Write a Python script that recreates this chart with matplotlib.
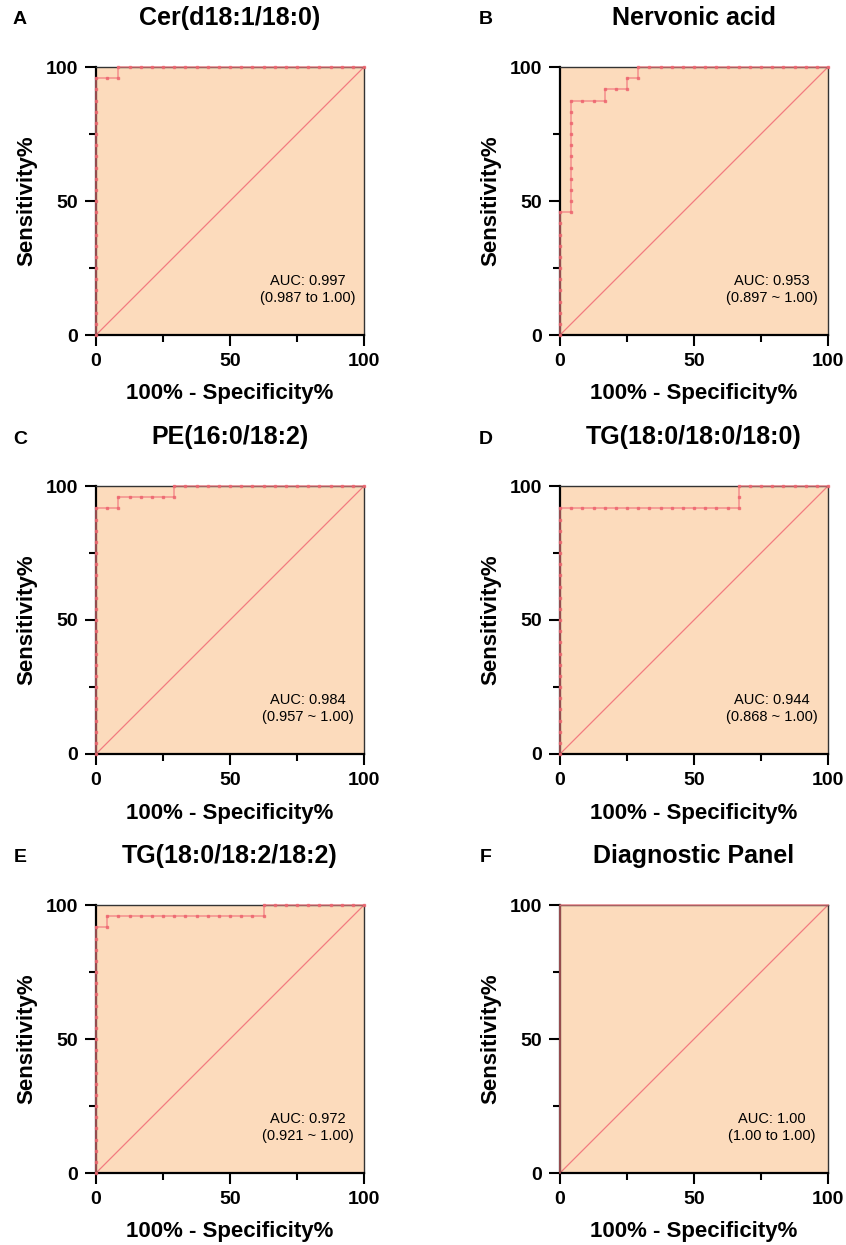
import numpy as np
import matplotlib
matplotlib.use("Agg")
import matplotlib.pyplot as plt
from matplotlib.ticker import MultipleLocator

plt.rcParams['font.family'] = ['Liberation Sans', 'DejaVu Sans']

# ROC data: 24 cases and 24 controls per marker.
# Each run = (cases passed, controls passed) when walking down the score ranking.
n_cases = 24
n_controls = 24
titles = ['Cer(d18:1/18:0)', 'Nervonic acid', 'PE(16:0/18:2)',
          'TG(18:0/18:0/18:0)', 'TG(18:0/18:2/18:2)', 'Diagnostic Panel']
letters = ['A', 'B', 'C', 'D', 'E', 'F']
runs = [
    [(23, 2), (1, 22)],
    [(11, 1), (10, 3), (1, 2), (1, 1), (1, 17)],
    [(22, 2), (1, 5), (1, 17)],
    [(22, 16), (2, 8)],
    [(22, 1), (1, 14), (1, 9)],
    [(24, 24)],
]
auc_text = ['AUC: 0.997\n(0.987 to 1.00)', 'AUC: 0.953\n(0.897 ~ 1.00)',
            'AUC: 0.984\n(0.957 ~ 1.00)', 'AUC: 0.944\n(0.868 ~ 1.00)',
            'AUC: 0.972\n(0.921 ~ 1.00)', 'AUC: 1.00\n(1.00 to 1.00)']

FILL = '#FCDBBC'
RED = '#F27B80'


def roc_points(r):
    # one step per subject, cases move up, controls move right
    moves = []
    for up, right in r:
        moves += [(0, 1)] * up + [(1, 0)] * right
    moves = np.array(moves)
    fp = np.concatenate([[0], np.cumsum(moves[:, 0])]) / n_controls * 100
    tp = np.concatenate([[0], np.cumsum(moves[:, 1])]) / n_cases * 100
    return fp, tp


W, H = 846, 1245
fig = plt.figure(figsize=(W / 100, H / 100), dpi=100)

col_left = [96, 560]
row_top = [67, 486, 905]
size = 268

for i in range(6):
    c, r = i % 2, i // 2
    ax = fig.add_axes([col_left[c] / W, (H - row_top[r] - size) / H, size / W, size / H])
    ax.set_facecolor(FILL)
    fp, tp = roc_points(runs[i])
    ax.plot([0, 100], [0, 100], color=RED, lw=0.9, zorder=2)
    ms = 0 if i == 5 else 1.5
    ax.plot(fp, tp, color=RED, lw=1.1, marker='s', ms=ms, mec='#EE6670', mfc='#EE6670',
            clip_on=False, zorder=3, alpha=0.8)
    ax.set_xlim(0, 100)
    ax.set_ylim(0, 100)
    ax.xaxis.set_major_locator(MultipleLocator(50))
    ax.yaxis.set_major_locator(MultipleLocator(50))
    ax.xaxis.set_minor_locator(MultipleLocator(25))
    ax.yaxis.set_minor_locator(MultipleLocator(25))
    ax.tick_params(which='major', length=8, width=1.5, pad=5, labelsize=14)
    ax.tick_params(which='minor', length=5, width=1.5)
    for lab in ax.get_xticklabels() + ax.get_yticklabels():
        lab.set_fontweight('bold')
    for s in ['left', 'bottom']:
        ax.spines[s].set_linewidth(1.6)
    for s in ['top', 'right']:
        ax.spines[s].set_linewidth(1.0)
        ax.spines[s].set_color('#333333')

    ax.set_xlabel('100% - Specificity%', fontsize=16, fontweight='bold')
    ax.set_ylabel('Sensitivity%', fontsize=16, fontweight='bold')
    ax.xaxis.set_label_coords(0.5, -59 / size)
    ax.xaxis.label.set_va('center')
    ax.yaxis.set_label_coords(-69 / size, 0.5)
    ax.yaxis.label.set_va('center')

    ax.text(0.79, 0.17, auc_text[i], transform=ax.transAxes, ha='center', va='center',
            fontsize=10.5, linespacing=1.25)
    ax.text(0.5, 1 + 49 / size, titles[i], transform=ax.transAxes, ha='center', va='center',
            fontsize=18, fontweight='bold')
    fig.text((20 + 466 * c) / W, 1 - (20 + 419 * r) / H, letters[i], ha='center', va='center',
             fontsize=14, fontweight='bold')

fig.savefig('out.png', dpi=100)
